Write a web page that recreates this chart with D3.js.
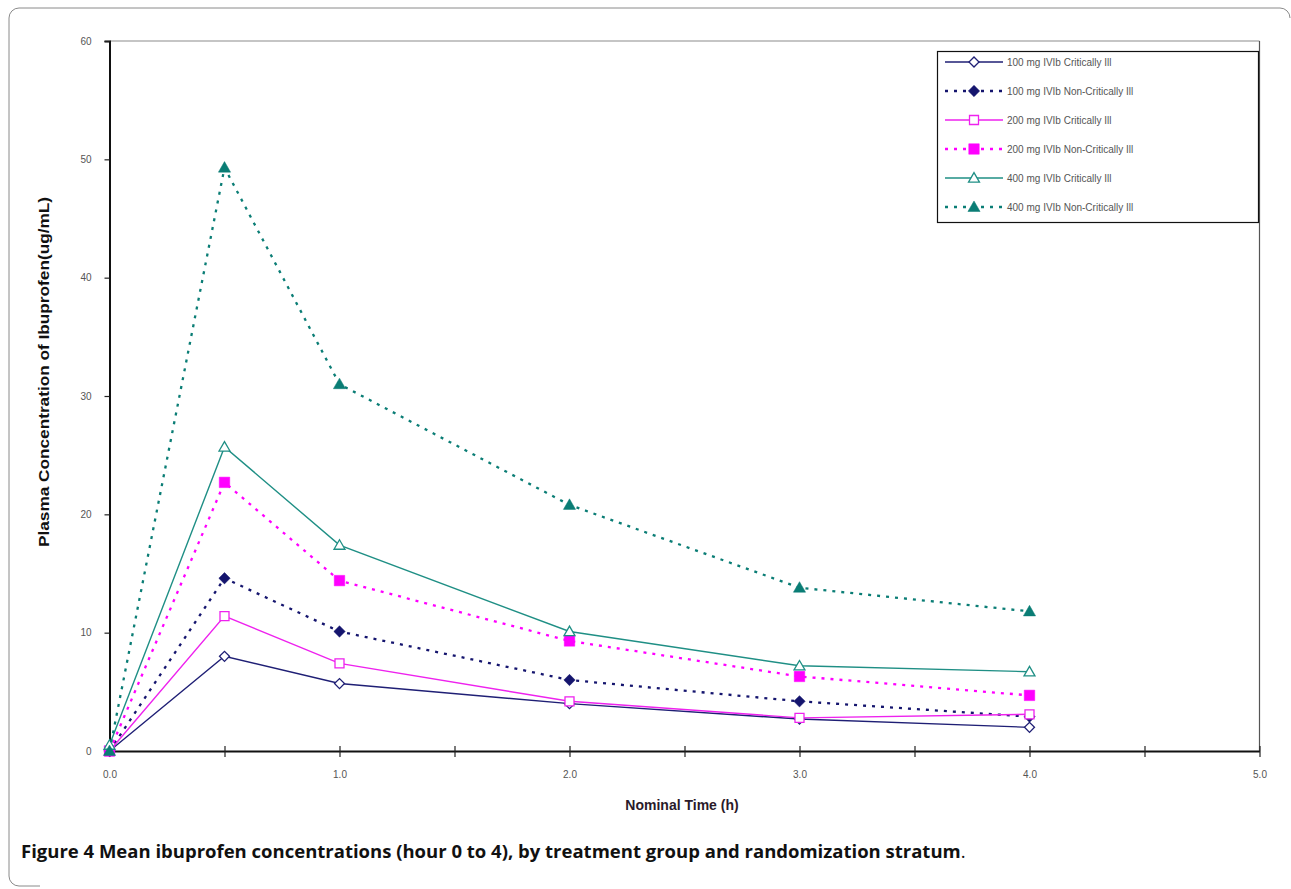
<!DOCTYPE html>
<html>
<head>
<meta charset="utf-8">
<script src="https://cdn.jsdelivr.net/npm/d3@7"></script>
<style>
  html, body { margin: 0; padding: 0; background: #fff; }
  svg { display: block; }
</style>
</head>
<body>
<svg id="chart" width="1291" height="889"></svg>
<script>
// ---- data ----
const times = [0, 0.5, 1, 2, 3, 4];
const crit100 = [0, 8.0, 5.7, 4.0, 2.7, 2.0];
const nonCrit100 = [0, 14.6, 10.1, 6.0, 4.2, 2.9];
const crit200 = [0, 11.4, 7.4, 4.2, 2.8, 3.1];
const nonCrit200 = [0, 22.7, 14.4, 9.3, 6.3, 4.7];
const crit400 = [0.5, 25.7, 17.4, 10.1, 7.2, 6.7];
const nonCrit400 = [0, 49.3, 31.0, 20.8, 13.8, 11.8];
const seriesNames = [
  "100 mg IVIb Critically Ill",
  "100 mg IVIb Non-Critically Ill",
  "200 mg IVIb Critically Ill",
  "200 mg IVIb Non-Critically Ill",
  "400 mg IVIb Critically Ill",
  "400 mg IVIb Non-Critically Ill"
];
const xTicks = [0, 0.5, 1, 1.5, 2, 2.5, 3, 3.5, 4, 4.5, 5];
const xTickLabels = [0, 1, 2, 3, 4, 5];
const yTicks = [0, 10, 20, 30, 40, 50, 60];
const yTitle = "Plasma Concentration of Ibuprofen(ug/mL)";
const xTitle = "Nominal Time (h)";
const captionBold = "Figure 4";
const captionRest = " Mean ibuprofen concentrations (hour 0 to 4), by treatment group and randomization stratum";

// ---- styling (per series) ----
const values = [crit100, nonCrit100, crit200, nonCrit200, crit400, nonCrit400];
const styles = [
  {color: "#1f1f75", dash: null, width: 1.4, symbol: "diamond", filled: false, size: 50},
  {color: "#15156e", dash: "3,6", width: 2.3, symbol: "diamond", filled: true, size: 64},
  {color: "#ee22ee", dash: null, width: 1.4, symbol: "square", filled: false, size: 81},
  {color: "#ff00ff", dash: "3,6", width: 2.3, symbol: "square", filled: true, size: 110},
  {color: "#1f8f85", dash: null, width: 1.4, symbol: "triangle", filled: false, size: 52},
  {color: "#0a7d75", dash: "3,6", width: 2.3, symbol: "triangle", filled: true, size: 64}
];

const svg = d3.select("#chart");

// outer rounded frame (top, left edges visible)
svg.append("path")
  .attr("d", "M40,886 L19,886 A10,10 0 0 1 9,876 L9,18 A10,10 0 0 1 19,8 L1280,8 A10,10 0 0 1 1290,18")
  .attr("fill", "none").attr("stroke", "#8a8a8a").attr("stroke-width", 1);

const x = d3.scaleLinear().domain([0, 5]).range([109.5, 1259.5]);
const y = d3.scaleLinear().domain([0, 60]).range([751, 41]);

// plot frame (top & right thin)
svg.append("line").attr("x1", x(0)).attr("x2", x(5)).attr("y1", y(60)).attr("y2", y(60))
  .attr("stroke", "#8c8c8c").attr("stroke-width", 1.2);
svg.append("line").attr("x1", x(5)).attr("x2", x(5)).attr("y1", y(60)).attr("y2", y(0))
  .attr("stroke", "#555").attr("stroke-width", 1.2);

// y axis
const yAxis = d3.axisLeft(y).tickValues(yTicks).tickSize(5).tickPadding(13).tickFormat(d3.format("d"));
const gy = svg.append("g").attr("transform", `translate(${x(0)},0)`).call(yAxis);
gy.select(".domain").attr("stroke", "#111").attr("stroke-width", 2);
gy.selectAll(".tick line").attr("stroke", "#222").attr("stroke-width", 1.2);
gy.selectAll(".tick text").attr("font-family", "Liberation Sans, Arial, sans-serif")
  .attr("font-size", 10).attr("fill", "#555");

// x axis
const xAxis = d3.axisBottom(x).tickValues(xTicks).tickSizeInner(6).tickSizeOuter(0).tickPadding(14)
  .tickFormat(d => xTickLabels.includes(d) ? d3.format(".1f")(d) : "");
const gx = svg.append("g").attr("transform", `translate(0,${y(0)})`).call(xAxis);
gx.select(".domain").attr("stroke", "#111").attr("stroke-width", 2);
gx.selectAll(".tick line").attr("y1", -5).attr("y2", 6).attr("stroke", "#222").attr("stroke-width", 1.2);
gx.selectAll(".tick text").attr("font-family", "Liberation Sans, Arial, sans-serif")
  .attr("font-size", 10).attr("fill", "#555");

// axis titles
svg.append("text")
  .attr("transform", `translate(49,372) rotate(-90)`)
  .attr("text-anchor", "middle")
  .attr("font-family", "Liberation Sans, Arial, sans-serif")
  .attr("font-weight", "bold").attr("font-size", 14).attr("fill", "#111")
  .attr("textLength", 350).attr("lengthAdjust", "spacingAndGlyphs")
  .text(yTitle);
svg.append("text")
  .attr("x", 682).attr("y", 810)
  .attr("text-anchor", "middle")
  .attr("font-family", "Liberation Sans, Arial, sans-serif")
  .attr("font-weight", "bold").attr("font-size", 14).attr("fill", "#2a1a2a")
  .text(xTitle);

// symbols
function symPath(st) {
  const t = st.symbol === "triangle" ? d3.symbolTriangle : d3.symbolSquare;
  return d3.symbol().type(t).size(st.size)();
}
function drawMarker(g, st, cx, cy) {
  const p = g.append("path").attr("d", symPath(st))
    .attr("transform", `translate(${cx},${cy})` + (st.symbol === "diamond" ? " rotate(45)" : "") + (st.symbol === "triangle" ? " translate(0,1)" : ""));
  if (st.filled) p.attr("fill", st.color).attr("stroke", st.color).attr("stroke-width", 0.5);
  else p.attr("fill", "#fff").attr("stroke", st.color).attr("stroke-width", 1.3);
}

const line = d3.line().x(d => x(d[0])).y(d => y(d[1]));
values.forEach((vals, i) => {
  const st = styles[i];
  const pts = times.map((t, j) => [t, vals[j]]);
  const g = svg.append("g");
  g.append("path").attr("d", line(pts)).attr("fill", "none")
    .attr("stroke", st.color).attr("stroke-width", st.width)
    .attr("stroke-dasharray", st.dash);
  pts.forEach(p => drawMarker(g, st, x(p[0]), y(p[1])));
});

// legend
const lg = svg.append("g");
lg.append("rect").attr("x", 937.5).attr("y", 51.5).attr("width", 321).attr("height", 171)
  .attr("fill", "#fff").attr("stroke", "#111").attr("stroke-width", 1.2);
seriesNames.forEach((name, i) => {
  const st = styles[i];
  const ly = 62 + i * 29;
  lg.append("line").attr("x1", 945).attr("x2", 1003).attr("y1", ly).attr("y2", ly)
    .attr("stroke", st.color).attr("stroke-width", st.width).attr("stroke-dasharray", st.dash);
  drawMarker(lg, st, 974, ly);
  lg.append("text").attr("x", 1007).attr("y", ly + 1)
    .attr("font-family", "Liberation Sans, Arial, sans-serif").attr("font-size", 10)
    .attr("fill", "#555").attr("dominant-baseline", "middle")
    .text(name);
});

// caption
const cap = svg.append("text").attr("x", 21).attr("y", 858)
  .attr("font-family", "Open Sans, Noto Sans, sans-serif").attr("font-size", 17).attr("fill", "#111");
cap.append("tspan").attr("font-weight", "bold").text(captionBold);
cap.append("tspan").attr("font-weight", "bold").text(captionRest);
cap.append("tspan").attr("font-weight", "normal").text(".");
// fit caption to reference width (≈ 21 → 966)
const w = cap.node().getComputedTextLength();
cap.attr("font-size", 17 * 945 / w);
</script>
</body>
</html>
